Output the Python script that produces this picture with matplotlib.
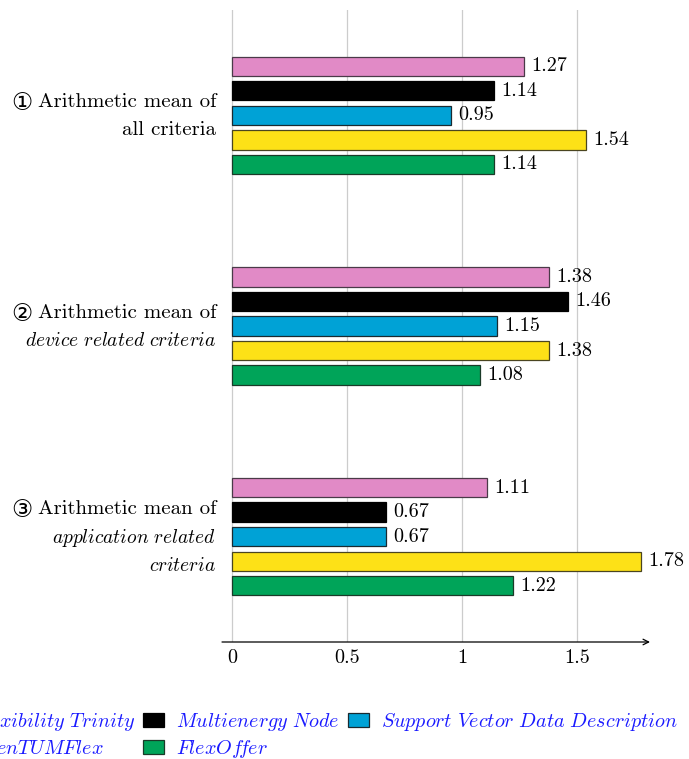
import matplotlib
matplotlib.use("Agg")
import matplotlib.pyplot as plt
from matplotlib.patches import Patch
import numpy as np

plt.rcParams['mathtext.fontset'] = 'cm'
plt.rcParams['axes.unicode_minus'] = False
plt.rcParams['font.family'] = ['cmr10', 'DejaVu Sans']

series = ["Flexibility Trinity", "Multienergy Node", "Support Vector Data Description",
          "OpenTUMFlex", "FlexOffer"]
colors = ["#E18AC6", "#000000", "#00A2D6", "#FDE117", "#00A459"]
edges = ["#4a3a48", "#000000", "#1a2a30", "#4a4520", "#1a3a28"]
groups = ["g1", "g2", "g3"]
values = {
    "Flexibility Trinity": [1.27, 1.38, 1.11],
    "Multienergy Node": [1.14, 1.46, 0.67],
    "Support Vector Data Description": [0.95, 1.15, 0.67],
    "OpenTUMFlex": [1.54, 1.38, 1.78],
    "FlexOffer": [1.14, 1.08, 1.22],
}
xticks = [0, 0.5, 1, 1.5]
xticklabels = ["0", "0.5", "1", "1.5"]

fig = plt.figure(figsize=(6.89, 7.59), dpi=100)
W, H = 689, 759
ax_left, ax_right, ax_top, ax_bot = 222, 650, 10, 642
ax = fig.add_axes([ax_left / W, 1 - ax_bot / H, (ax_right - ax_left) / W, (ax_bot - ax_top) / H])

x0px, x1px = 232, 462
scale = x1px - x0px
xmin = (ax_left - x0px) / scale
xmax = (ax_right - x0px) / scale
ax.set_xlim(xmin, xmax)
ax.set_ylim(2.5, -0.5)

step = 0.1166
bh = 0.092
fs = 14.5
handles = []
for k, s in enumerate(series):
    ys = np.arange(len(groups)) + (k - 2) * step
    ax.barh(ys, values[s], height=bh, color=colors[k], edgecolor=edges[k], linewidth=0.9, zorder=3)
    for y, v in zip(ys, values[s]):
        ax.text(v + 0.032, y, f"{v:.2f}", va="center", ha="left", fontsize=fs, zorder=4)
    handles.append(Patch(facecolor=colors[k], edgecolor=edges[k], linewidth=0.9))

for xt in xticks:
    ax.axvline(xt, color="#cccccc", lw=0.9, zorder=1)

for sp in ["top", "right", "left", "bottom"]:
    ax.spines[sp].set_visible(False)
ax.annotate("", xy=(xmax, 2.5), xytext=(xmin, 2.5), xycoords="data",
            arrowprops=dict(arrowstyle="->", lw=0.9, color="black", shrinkA=0, shrinkB=0),
            annotation_clip=False)
ax.set_xticks(xticks)
ax.set_xticklabels(xticklabels, fontsize=fs)
ax.tick_params(axis="x", length=0, pad=5)
ax.set_yticks([])

# group labels
lab_x = 216 / W
def fy(px):
    return 1 - px / H
rm = dict(ha="right", va="center", fontsize=15)
rmi = dict(ha="right", va="center", fontsize=14)
circ = dict(ha="right", va="center", fontsize=17, family=["DejaVu Sans"])
def grp_label(lines, ys, num):
    for i, (ln, y) in enumerate(zip(lines, ys)):
        t = fig.text(lab_x, fy(y), ln, **(rm if (i == 0 or not ln.startswith("$")) else rmi))
        if i == 0:
            fig.canvas.draw()
            bb = t.get_window_extent()
            fig.text((bb.x0 - 5) / W, fy(y + 1), num, **circ)

grp_label(["Arithmetic mean of", "all criteria"], [102, 130], "\u2460")
grp_label(["Arithmetic mean of", r"$\mathit{device\ related\ criteria}$"], [313, 341], "\u2461")
grp_label(["Arithmetic mean of", r"$\mathit{application\ related}$", r"$\mathit{criteria}$"],
          [509, 538, 566], "\u2462")

order = [0, 3, 1, 4, 2]
def it(s):
    s = s.replace(" ", r"\ ").replace("ff", r"f\!f")
    return r"$\mathit{" + s + "}$"
labels_it = [it(series[i]) for i in order]
anchor_x = -80 / W
leg_kw = dict(ncol=3, loc="upper left", frameon=False, fontsize=fs,
              handlelength=1.05, handleheight=0.7, handletextpad=0.6,
              columnspacing=0.4, labelspacing=0.25, borderaxespad=0, borderpad=0)
leg = fig.legend([handles[i] for i in order], labels_it,
                 bbox_to_anchor=(anchor_x, fy(711)), **leg_kw)
fig.canvas.draw()
bx = leg.legend_handles[2].get_window_extent().x0
shift = (143 - bx) / W
leg.remove()
leg = fig.legend([handles[i] for i in order], labels_it,
                 bbox_to_anchor=(anchor_x + shift, fy(711)), **leg_kw)
for t in leg.get_texts():
    t.set_color("#1a1aff")

fig.savefig("out.png", dpi=100)
